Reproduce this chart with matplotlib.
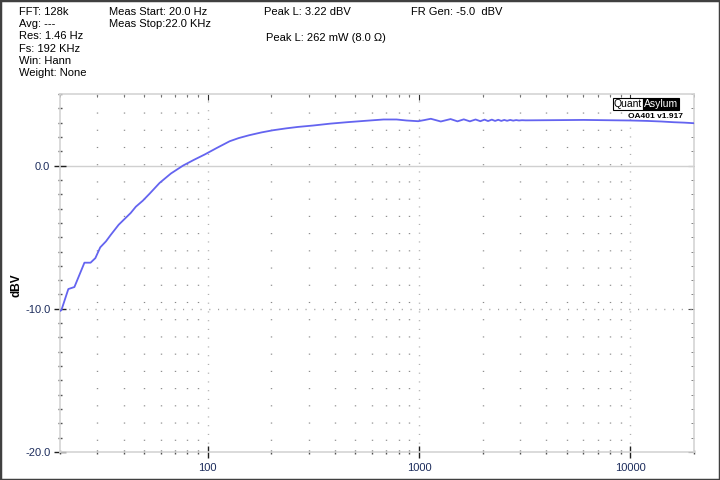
import numpy as np
import matplotlib.pyplot as plt
from matplotlib.ticker import FixedLocator, NullFormatter
from matplotlib.patches import Rectangle

plt.rcParams["font.family"] = ["Liberation Sans", "DejaVu Sans"]

# frequency response (Hz, dBV)
freq = [20.0, 20.3, 21.9, 23.4, 26.1, 27.9, 29.4, 31.0, 33.0, 34.8, 37.9, 40.4,
        43.2, 45.7, 49.3, 53.1, 59.2, 67.0, 76.4, 86.0, 96.6, 110, 127, 140, 157,
        180, 204, 235, 267, 316, 380, 456, 560, 679, 783, 872, 990, 1060, 1137,
        1267, 1410, 1520, 1628, 1740, 1851, 1950, 2041, 2120, 2210, 2290, 2370,
        2450, 2530, 2610, 2700, 2790, 2880, 2970, 3070, 3200, 4000, 5000, 6000,
        7700, 10000, 12000, 14000, 16000, 18000, 20000]
level = [-10.15, -10.1, -8.62, -8.48, -6.78, -6.78, -6.46, -5.71, -5.29, -4.83,
         -4.13, -3.73, -3.31, -2.87, -2.45, -1.96, -1.21, -0.55, 0.0, 0.40, 0.77,
         1.22, 1.70, 1.92, 2.12, 2.32, 2.47, 2.60, 2.70, 2.80, 2.93, 3.03, 3.13,
         3.22, 3.22, 3.15, 3.10, 3.18, 3.27, 3.08, 3.25, 3.09, 3.23, 3.09, 3.22,
         3.10, 3.21, 3.11, 3.21, 3.12, 3.20, 3.12, 3.19, 3.13, 3.19, 3.14, 3.18,
         3.15, 3.17, 3.16, 3.17, 3.18, 3.19, 3.17, 3.15, 3.12, 3.08, 3.03, 3.00,
         2.96]

x_major = [100, 1000, 10000]
x_major_labels = ["100", "1000", "10000"]
x_minor = [m * d for d in (10, 100, 1000) for m in range(2, 10) if 20 <= m * d <= 20000]
x_minor.append(20000)
y_major = [0, -10, -20]
y_major_labels = ["0.0", "-10.0", "-20.0"]

header_left = ["FFT: 128k", "Avg: ---", "Res: 1.46 Hz", "Fs: 192 KHz", "Win: Hann", "Weight: None"]
header_mid = ["Meas Start: 20.0 Hz", "Meas Stop:22.0 KHz"]

fig = plt.figure(figsize=(7.2, 4.8), dpi=100)
fig.patches.append(Rectangle((0, 0), 1, 1, transform=fig.transFigure, fill=False,
                             edgecolor="#404040", linewidth=2.5))
ax = fig.add_axes([60 / 720, 1 - 452 / 480, 634 / 720, 358 / 480])

ax.plot(freq, level, color="#6464f0", linewidth=1.3, zorder=5)

ax.set_xscale("log")
ax.set_xlim(20, 20000)
ax.set_ylim(-20, 5)

ax.xaxis.set_major_locator(FixedLocator(x_major))
ax.set_xticklabels(x_major_labels)
ax.xaxis.set_minor_locator(FixedLocator(x_minor))
ax.xaxis.set_minor_formatter(NullFormatter())
ax.yaxis.set_major_locator(FixedLocator(y_major))
ax.set_yticklabels(y_major_labels)
ax.yaxis.set_minor_locator(FixedLocator(list(range(-20, 6))))

for s in ax.spines.values():
    s.set_color("#d4d4d4")
    s.set_linewidth(1.2)

ax.tick_params(which="major", direction="inout", length=8, width=1, color="#202020",
               labelsize=8, labelcolor="#1c2c5c", pad=4)
ax.tick_params(which="minor", direction="inout", length=3, width=1, color="#505050")
ax.tick_params(axis="y", which="major", pad=3)

# short ticks on top and right edges
ax_top = ax.secondary_xaxis("top")
ax_top.xaxis.set_major_locator(FixedLocator(x_major))
ax_top.xaxis.set_minor_locator(FixedLocator(x_minor))
ax_top.tick_params(which="major", direction="in", length=4, color="#303030", labeltop=False)
ax_top.tick_params(which="minor", direction="in", length=2.5, color="#404040")
ax_top.spines["top"].set_visible(False)
ax_right = ax.secondary_yaxis("right")
ax_right.yaxis.set_major_locator(FixedLocator(y_major))
ax_right.yaxis.set_minor_locator(FixedLocator(list(range(-20, 6))))
ax_right.tick_params(which="major", direction="in", length=4, color="#505050", labelright=False)
ax_right.tick_params(which="minor", direction="in", length=2, color="#707070")
ax_right.spines["right"].set_visible(False)

# dotted grid
for f in x_minor[:-1]:
    if f > 20:
        ax.axvline(f, color="#8a8a8a", linewidth=1.0, linestyle=(4, (0.8, 11.6)), zorder=1)
for f in x_major:
    ax.axvline(f, color="#b0b0b0", linewidth=1.0, linestyle=(0, (0.8, 5.5)), zorder=1)
ax.axhline(0, color="#d0d0d0", linewidth=1.0, zorder=1)
ax.axhline(-10, color="#a0a0a0", linewidth=1.0, linestyle=(0, (0.8, 5.5)), zorder=1)

fig.text(17 / 720, 1 - 285 / 480, "dBV", rotation=90, fontsize=8.5, fontweight="bold",
         ha="center", va="center")

# header block
for i, t in enumerate(header_left):
    fig.text(19 / 720, 1 - (12 + i * 12.2) / 480, t, fontsize=8, va="center")
for i, t in enumerate(header_mid):
    fig.text(109 / 720, 1 - (12 + i * 12.2) / 480, t, fontsize=8, va="center")
fig.text(264 / 720, 1 - 12 / 480, "Peak L: 3.22 dBV", fontsize=8, va="center")
fig.text(266 / 720, 1 - 38 / 480, "Peak L: 262 mW (8.0 \u03a9)", fontsize=8, va="center")
fig.text(411 / 720, 1 - 12 / 480, "FR Gen: -5.0  dBV", fontsize=8, va="center")

# logo
fig.text(614 / 720, 1 - 104 / 480, "Quant", fontsize=7.5, va="center", ha="left",
         bbox=dict(boxstyle="square,pad=0.1", facecolor="white", edgecolor="black", linewidth=0.8))
fig.text(644 / 720, 1 - 104 / 480, "Asylum", fontsize=7.5, va="center", ha="left", color="white",
         bbox=dict(boxstyle="square,pad=0.1", facecolor="black", edgecolor="black", linewidth=0.8))
fig.text(655 / 720, 1 - 116 / 480, "OA401 v1.917", fontsize=6, fontweight="bold",
         va="center", ha="center")

fig.savefig("out.png", dpi=100)
